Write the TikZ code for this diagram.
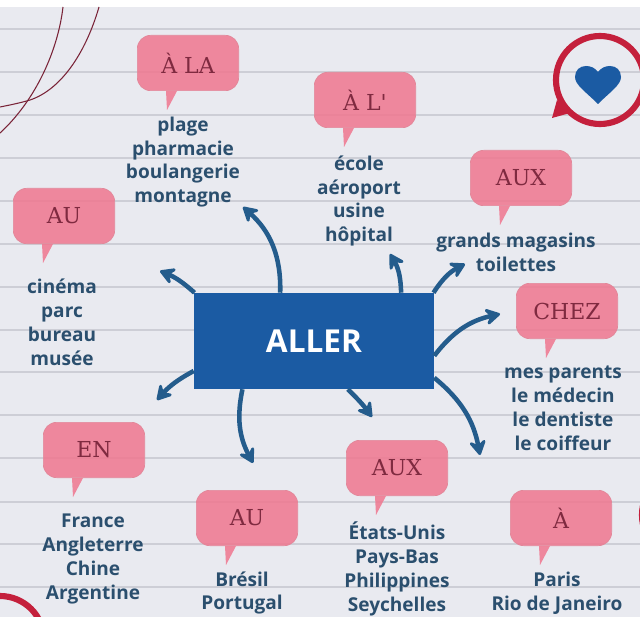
\documentclass[tikz,border=0pt]{standalone}
\usepackage{fontspec}
\setsansfont{Open Sans}
\newfontfamily\bubblefont{DejaVu Serif}
\usetikzlibrary{arrows.meta,calc}
\definecolor{pagegray}{HTML}{E9EAF0}
\definecolor{rulegray}{HTML}{CDCED6}
\definecolor{bubblepink}{HTML}{F0768F}
\definecolor{bubbleedge}{HTML}{E2889A}
\definecolor{bubbletext}{HTML}{7F2A40}
\definecolor{wordblue}{HTML}{2B4F6E}
\definecolor{boxblue}{HTML}{1B5BA3}
\definecolor{arrowblue}{HTML}{245C8C}
\definecolor{ringred}{HTML}{C4203C}
\definecolor{thinred}{HTML}{7A2438}

\begin{document}
\begin{tikzpicture}[
    x=0.75pt,
    y=-0.75pt,
    font=\sffamily,
    >={Stealth[length=14pt,width=16pt,inset=5.5pt,round]},
    rule/.style={rulegray, line width=1.8pt},
    thinline/.style={thinred, line width=0.8pt},
    ring/.style={ringred, line width=4.6pt},
    mainbox/.style={
        fill=boxblue,
        minimum width=180pt,
        minimum height=72pt,
        inner sep=0pt,
        text=white,
        font=\sffamily\bfseries\fontsize{23.7}{26}\selectfont
    },
    bubble/.style={
        draw=bubbleedge,
        line width=0.5pt,
        fill=bubblepink,
        fill opacity=0.85,
        text opacity=1,
        rounded corners=10pt,
        minimum width=76pt,
        minimum height=41.5pt,
        inner sep=0pt,
        text=bubbletext,
        font=\bubblefont\fontsize{16.5}{18}\selectfont
    },
    bubbletail/.style={
        fill=bubblepink,
        fill opacity=0.85
    },
    words/.style={
        align=center,
        inner sep=0pt,
        text=wordblue,
        font=\sffamily\bfseries\fontsize{14.3}{17.9}\selectfont
    },
    arrow/.style={->, arrowblue, line width=3.4pt}
]

\clip (0,0) rectangle (640,617);

% Page
\fill[white] (0,0) rectangle (640,617);
\fill[pagegray] (0,7) rectangle (640,617);
\foreach \y in {29,72,115,158,201,244,287,330,372,415,458,502,544,587}
    \draw[rule] (0,\y) -- (640,\y);

% Thin curves, top left
\draw[thinline] (63,7) .. controls (58,50) and (36,100) .. (0,133);
\draw[thinline] (99,7) .. controls (85,55) and (60,90) .. (30,100) .. controls (20,103) and (10,105) .. (0,107);

% Heart bubble and partial rings
\draw[ring] (600,80) circle (44);
\fill[ringred] (552,118) -- (557,100) -- (570,113) -- cycle;
\fill[boxblue] (598,104) .. controls (586,92) and (575,85) .. (575,77)
    .. controls (575,70) and (580,66) .. (586,66)
    .. controls (591,66) and (595,68) .. (598,72)
    .. controls (601,68) and (605,66) .. (610,66)
    .. controls (616,66) and (621,70) .. (621,77)
    .. controls (621,85) and (610,92) .. (598,104) -- cycle;
\draw[ring] (0,640) circle (44);
\draw[ring] (686,515) circle (44);

% Bubbles
\node[bubble] (ala) at (188,63) {À LA};
\node[bubble] (al) at (365,100) {À L'};
\node[bubble] (auxa) at (521,178) {AUX};
\node[bubble] (chez) at (567,311) {CHEZ};
\node[bubble] (aua) at (64,216) {AU};
\node[bubble] (en) at (94,450) {EN};
\node[bubble] (aub) at (247,518) {AU};
\node[bubble] (auxb) at (397,468) {AUX};
\node[bubble] (a) at (561,518) {À};

% Bubble tails
\foreach \b in {ala,al,auxa,chez,aua,en,aub,auxb,a}
    \fill[bubbletail] ($(\b.south west)+(29,0)$) -- ($(\b.south west)+(40,0)$) -- ($(\b.south west)+(30,19)$) -- cycle;

% Word lists
\node[words] (alawords) at (183,162) {plage\\pharmacie\\boulangerie\\montagne};
\node[words] (alwords) at (359,201) {école\\aéroport\\usine\\hôpital};
\node[words] (auxawords) at (516,252) {grands magasins\\toilettes};
\node[words] (chezwords) at (563,408) {mes parents\\le médecin\\le dentiste\\le coiffeur};
\node[words] (auawords) at (62,322) {cinéma\\parc\\bureau\\musée};
\node[words] (enwords) at (93,559) {France\\Angleterre\\Chine\\Argentine};
\node[words] (aubwords) at (242,593) {Brésil\\Portugal};
\node[words] (auxbwords) at (397,569) {États-Unis\\Pays-Bas\\Philippines\\Seychelles};
\node[words] (awords) at (557,593) {Paris\\Rio de Janeiro};

% Centre
\node[mainbox] (aller) at (314,341) {ALLER};

% Arrow ends
\coordinate (endala) at (243,207);
\coordinate (endaua) at (160,271);
\coordinate (endal) at (390,254);
\coordinate (endauxa) at (465,264);
\coordinate (endchez) at (500,314);
\coordinate (enda) at (480,455);
\coordinate (endauxb) at (372,417);
\coordinate (endaub) at (253,463);
\coordinate (enden) at (157,400);

% Arrows
\draw[arrow] (aller.125) to[bend right=25] (endala);
\draw[arrow] (aller.158) to[bend right=10] (endaua);
\draw[arrow] (aller.29) to[bend right=15] (endal);
\draw[arrow] (aller.22) to[bend left=15] (endauxa);
\draw[arrow] (aller.-7) to[bend left=20] (endchez);
\draw[arrow] (aller.-17) to[bend left=20] (enda);
\draw[arrow] (aller.-55) to[bend left=5] (endauxb);
\draw[arrow] (aller.-146) to[bend right=20] (endaub);
\draw[arrow] (aller.194) to[bend right=10] (enden);

\end{tikzpicture}
\end{document}
